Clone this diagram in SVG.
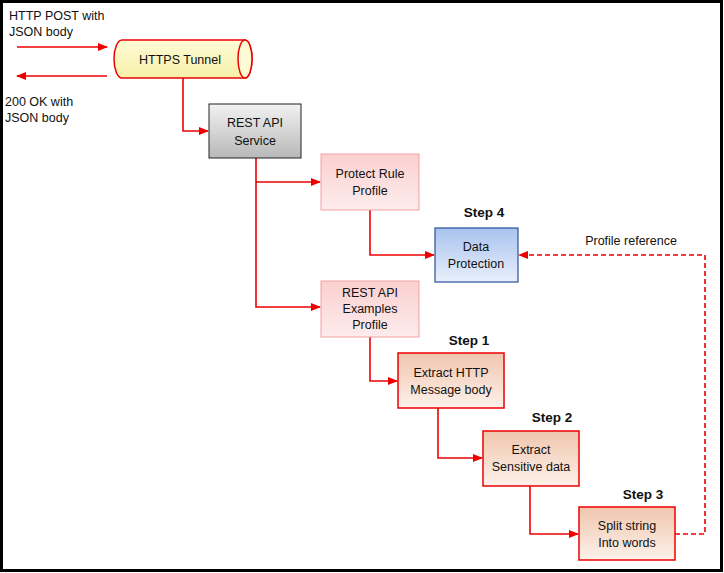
<svg xmlns="http://www.w3.org/2000/svg" width="724" height="573" viewBox="0 0 724 573">
<defs>
<linearGradient id="gy" x1="0" y1="0" x2="0" y2="1"><stop offset="0" stop-color="#f2f2f2"/><stop offset="1" stop-color="#b8b8b8"/></linearGradient>
<linearGradient id="pk" x1="0" y1="0" x2="0" y2="1"><stop offset="0" stop-color="#fbd0d0"/><stop offset="1" stop-color="#fdecec"/></linearGradient>
<linearGradient id="bl" x1="0" y1="0" x2="0" y2="1"><stop offset="0" stop-color="#a9c3ee"/><stop offset="1" stop-color="#e8effb"/></linearGradient>
<linearGradient id="or" x1="0" y1="0" x2="0" y2="1"><stop offset="0" stop-color="#f0c6ae"/><stop offset="1" stop-color="#fdf1ea"/></linearGradient>
<linearGradient id="yl" x1="0" y1="0" x2="0" y2="1"><stop offset="0" stop-color="#fdfbd6"/><stop offset="1" stop-color="#f7f0a8"/></linearGradient>
<marker id="ar" markerWidth="10" markerHeight="8" refX="9" refY="4" orient="auto" markerUnits="userSpaceOnUse"><path d="M0,0 L10,4 L0,8 z" fill="#e00"/></marker>
</defs>
<style>
text{font-family:"Liberation Sans",Arial,sans-serif;font-size:12.5px;fill:#111}
.c{text-anchor:middle}
.b{font-weight:bold;font-size:13.5px}
.ln{fill:none;stroke:#e00;stroke-width:1.6}
.box{stroke:#e00;stroke-width:1.5}
</style>
<rect x="1.5" y="1.5" width="720" height="569" fill="#fff" stroke="#000" stroke-width="3"/>
<text x="9" y="20">HTTP POST with</text>
<text x="9" y="36">JSON body</text>
<text x="5" y="106">200 OK with</text>
<text x="5" y="122">JSON body</text>
<g id="connectors">
<line class="ln" x1="17" y1="47" x2="107" y2="47" marker-end="url(#ar)"/>
<line class="ln" x1="107" y1="76" x2="17" y2="76" marker-end="url(#ar)"/>
<path class="ln" d="M183,78 V131 H208" marker-end="url(#ar)"/>
<path class="ln" d="M256,158 V307 H320" marker-end="url(#ar)"/>
<path class="ln" d="M256,182 H320" marker-end="url(#ar)"/>
<path class="ln" d="M370,210 V255 H434" marker-end="url(#ar)"/>
<path class="ln" d="M370,337 V381 H397" marker-end="url(#ar)"/>
<path class="ln" d="M438,408 V458 H482" marker-end="url(#ar)"/>
<path class="ln" d="M530,486 V534 H578" marker-end="url(#ar)"/>
<path class="ln" d="M675,534 H705 V255 H519" stroke-dasharray="5,3" marker-end="url(#ar)"/>
<text x="631" y="245" class="c">Profile reference</text>
</g>
<g id="tunnel">
<path d="M122,40 H245 A7,19 0 0 1 245,78 H122 A8,19 0 0 1 122,40 z" fill="url(#yl)" class="box" stroke-width="2"/>
<ellipse cx="245" cy="59" rx="7" ry="19" fill="#fdfbd6" class="box" stroke-width="2"/>
<text x="180" y="64" class="c">HTTPS Tunnel</text>
</g>
<g id="rest">
<rect x="209" y="104" width="92" height="54" fill="url(#gy)" stroke="#222" stroke-width="1"/>
<text x="255" y="127" class="c">REST API</text><text x="255" y="145" class="c">Service</text>
</g>
<g id="protect">
<rect x="321" y="154" width="98" height="56" fill="url(#pk)" stroke="#f4a0a0" stroke-width="1"/>
<text x="370" y="178" class="c">Protect Rule</text><text x="370" y="195" class="c">Profile</text>
</g>
<g id="dataprot">
<text x="484" y="217" class="c b">Step 4</text>
<rect x="435" y="228" width="83" height="54" fill="url(#bl)" stroke="#2a4f9a" stroke-width="1.2"/>
<text x="476" y="251" class="c">Data</text><text x="476" y="268" class="c">Protection</text>
</g>
<g id="examples">
<rect x="321" y="281" width="98" height="56" fill="url(#pk)" stroke="#f4a0a0" stroke-width="1"/>
<text x="370" y="297" class="c">REST API</text><text x="370" y="313" class="c">Examples</text><text x="370" y="329" class="c">Profile</text>
</g>
<g id="step1">
<text x="469" y="345" class="c b">Step 1</text>
<rect x="398" y="353" width="106" height="55" fill="url(#or)" class="box"/>
<text x="451" y="377" class="c">Extract HTTP</text><text x="451" y="394" class="c">Message body</text>
</g>
<g id="step2">
<text x="552" y="422" class="c b">Step 2</text>
<rect x="483" y="431" width="96" height="55" fill="url(#or)" class="box"/>
<text x="531" y="454" class="c">Extract</text><text x="531" y="471" class="c">Sensitive data</text>
</g>
<g id="step3">
<text x="643" y="499" class="c b">Step 3</text>
<rect x="579" y="507" width="96" height="53" fill="url(#or)" class="box"/>
<text x="627" y="530" class="c">Split string</text><text x="627" y="547" class="c">Into words</text>
</g>
</svg>
